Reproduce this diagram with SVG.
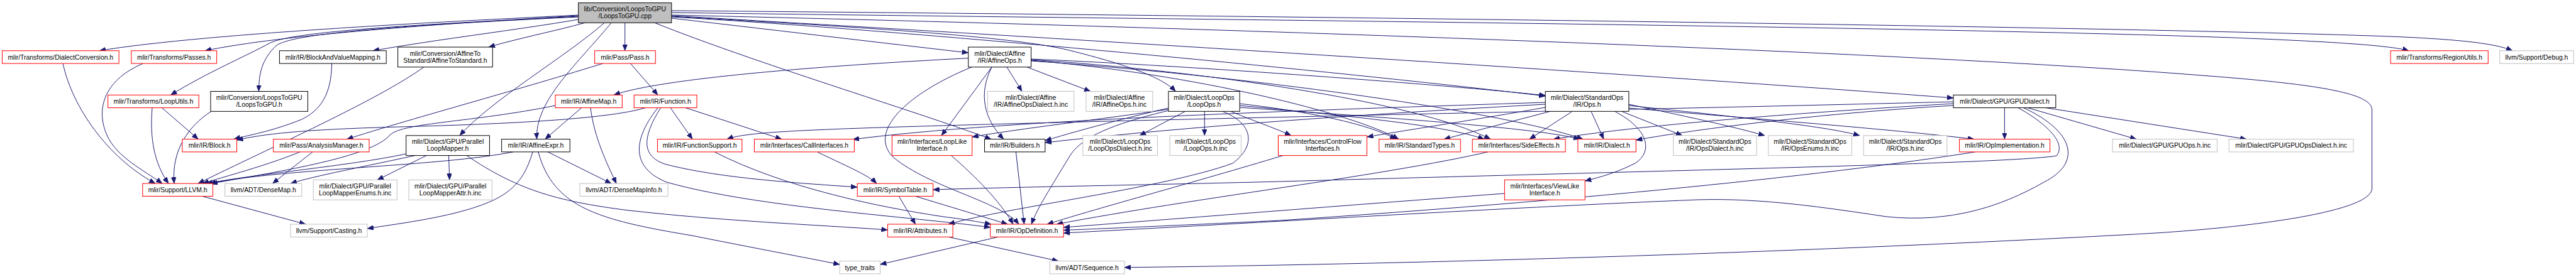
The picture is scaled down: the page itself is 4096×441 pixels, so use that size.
<svg xmlns="http://www.w3.org/2000/svg" width="4096" height="441" viewBox="0 0 4096 441">
<style>
.e path{fill:none;stroke:#191970;stroke-width:1;marker-end:url(#arr)}
.n rect{fill:#fff;stroke-width:1}
.red rect{stroke:#ff0000}
.blk rect{stroke:#000}
.gry rect{stroke:#bfbfbf}
#n_top rect{fill:#bfbfbf;stroke:#000}
text{font-family:"Liberation Sans",Arial,Helvetica,sans-serif;font-size:10.4px;text-anchor:middle;fill:#000}
</style>
<defs>
<marker id="arr" viewBox="0 0 10 8" refX="10" refY="4" markerWidth="10" markerHeight="8" markerUnits="userSpaceOnUse" orient="auto"><path d="M0,0 L10,4 L0,8 z" fill="#191970" stroke="#191970" stroke-width="0.5"/></marker>
</defs>
<rect width="4096" height="441" fill="#fff"/>
<g id="edges" class="e">
<path d="M919.7 24 C760 32 330 52 158 80.75"/>
<path d="M919.7 25 C700 38 450 55 326 80.75"/>
<path d="M919.7 26 C650 40 470 50 430 68 C390 90 330 115 271.4 151.25"/>
<path d="M919.7 27 C650 40 470 52 440 72 C415 95 411.5 120 411.5 145.5"/>
<path d="M919.7 31 C820 48 700 62 593 80.75"/>
<path d="M930 36.3 C880 50 820 62 777 75"/>
<path d="M993.7 36.3 L993.7 80.75"/>
<path d="M961 36.3 C900 90 780 160 731 215.8"/>
<path d="M972 36.3 C920 100 850 160 853.6 221.55"/>
<path d="M1067.8 29 C1250 50 1400 68 1539.7 84"/>
<path d="M1067.8 26 C1300 40 1600 55 1700 80 C1800 105 1850 125 1869.3 145.5"/>
<path d="M1067.8 27 C1400 45 2100 110 2457.2 153"/>
<path d="M1067.8 25 C1500 50 2500 110 3106 156"/>
<path d="M1067.8 20 C1600 28 3000 40 3550 60 C3700 66 3800 72 3830 80.75"/>
<path d="M1067.8 17 C1700 22 3300 40 3800 58 C3920 63 3970 70 3995 80.75"/>
<path d="M1067.8 24 C1800 40 3000 80 3500 120 C3700 135 3771.6 150 3771.6 175 L3771.6 300 C3771.6 340 3550 365 3392.7 373 C2900 400 2300 420 1787.9 425.8"/>
<path d="M1041 36.3 C1200 100 1450 175 1576 221.55"/>
<path d="M100 101.05 C115 170 170 250 247 292.15"/>
<path d="M227.6 101.05 C170 125 150 170 170 215 C185 250 230 272 258 292.15"/>
<path d="M242 171.55 C238 220 245 260 268 292.15"/>
<path d="M257.4 171.55 L315.2 221.55"/>
<path d="M336 177.3 C300 200 272 240 277 292.15"/>
<path d="M527.5 101.05 C527 150 510 175 480 190 C430 210 395 215 372 221.55"/>
<path d="M674 106.8 C600 160 430 235 315 292.15"/>
<path d="M958.7 101.05 C800 150 650 190 551.6 221.55"/>
<path d="M1002.5 101.05 L1046 151.25"/>
<path d="M477 241.85 C420 265 360 280 322 292.15"/>
<path d="M497 241.85 L433.4 292.15"/>
<path d="M1539.7 92.6 C1300 105 1050 125 976 151.25"/>
<path d="M883 168 C750 195 640 195 620 215 C590 250 450 272 336 292.15"/>
<path d="M1026.5 171.55 C950 195 700 200 600 203 C480 207 420 213 376.5 223"/>
<path d="M924.7 171.55 L866.7 221.55"/>
<path d="M939 171.55 C945 220 965 260 980 292.15"/>
<path d="M1066 171.55 L1101 221.55"/>
<path d="M1090 171.55 L1243 221.55"/>
<path d="M1050.6 171.55 C1020 220 1020 250 1060 262 C1150 285 1280 292 1363.2 298"/>
<path d="M1046 171.55 C1000 230 1010 270 1060 290 C1200 330 1450 345 1574.7 362"/>
<path d="M816 241.85 C700 265 450 268 333 292.15"/>
<path d="M645.7 245 C550 265 420 275 328 292.15"/>
<path d="M660 247.6 C580 265 500 280 462 292.15"/>
<path d="M678 247.6 L600 286.4"/>
<path d="M713.5 247.6 L714.8 286.4"/>
<path d="M742 247.6 C820 300 880 320 1000 335 C1150 352 1300 358 1411.4 366"/>
<path d="M847 241.85 C830 300 800 320 720 340 C670 352 620 358 584 364"/>
<path d="M855.8 241.85 C880 330 950 350 1100 375 C1200 395 1280 410 1335.2 421"/>
<path d="M871 241.85 L972 292.15"/>
<path d="M1136 241.85 C1250 300 1400 330 1500 345 C1540 350 1560 354 1576 357"/>
<path d="M1299.7 241.85 C1340 262 1380 278 1394 292.15"/>
<path d="M1429.3 312.45 L1455.6 356.95"/>
<path d="M1455.6 312.45 L1602.3 356.95"/>
<path d="M1512.5 247.6 C1550 280 1590 320 1611 356.95"/>
<path d="M1615.4 241.85 L1628.5 356.95"/>
<path d="M1545 106.8 C1440 150 1380 210 1420 250 C1480 300 1590 320 1620 356.95"/>
<path d="M1577 106.8 L1497 215.8"/>
<path d="M1577 106.8 C1555 150 1565 190 1596 221.55"/>
<path d="M1601 106.8 L1625 145.5"/>
<path d="M1633 106.8 L1734 145.5"/>
<path d="M1639.5 94 C1900 105 2300 135 2457.2 152"/>
<path d="M1639.5 95 C1900 112 2250 160 2370 221.55"/>
<path d="M1639.5 96 C1900 118 2150 180 2224 221.55"/>
<path d="M1639.5 97 C2000 122 2400 180 2517 221.55"/>
<path d="M1884.6 177.3 L1812 215.8"/>
<path d="M1915.3 177.3 L1915.3 215.8"/>
<path d="M1957 177.3 C2000 195 2030 205 2053 215.8"/>
<path d="M1943.7 177.3 C1990 195 2000 230 1960 260 C1850 300 1600 330 1508 356.95"/>
<path d="M1858 176 C1780 195 1720 215 1700 250 C1670 300 1650 330 1640 356.95"/>
<path d="M1857.9 172 C1780 190 1700 212 1661.8 224"/>
<path d="M1857.9 174 C1750 190 1620 205 1545.7 218"/>
<path d="M1971.2 165 C2100 180 2180 200 2220 221.55"/>
<path d="M1971.2 168 C2150 185 2300 200 2360 221.55"/>
<path d="M1971.2 171 C2250 190 2450 205 2512 221.55"/>
<path d="M3208.9 171.55 C3260 200 3285 230 3270 248 C3200 260 2700 270 2035.6 289 C1800 295 1600 298 1483.6 302"/>
<path d="M3217.6 171.55 C3300 210 3310 260 3250 290 C3180 330 3100 355 3000 345 C2900 330 2800 315 2700 318 C2400 330 2000 355 1691.1 371"/>
<path d="M3187.4 171.55 L3187.4 221.55"/>
<path d="M3224 171.55 L3397 221.55"/>
<path d="M3252.7 171.55 L3572 221.55"/>
<path d="M3106 168 C2900 180 2700 205 2601.3 223"/>
<path d="M3106 165 C2850 180 2600 200 2470 221.55"/>
<path d="M3106 162 C2600 175 1800 190 1400 203 C1250 208 1180 212 1156 221.55"/>
<path d="M2457.2 163 C2100 175 1600 190 1356 222"/>
<path d="M2457.2 171 C2350 190 2250 205 2173.5 218"/>
<path d="M2465 177.3 L2296 221.55"/>
<path d="M2500 177.3 L2432 221.55"/>
<path d="M2530 177.3 L2550 221.55"/>
<path d="M2567.5 177.3 C2620 205 2630 240 2600 260 C2570 275 2545 282 2520.2 288"/>
<path d="M2578.5 177.3 L2675 215.8"/>
<path d="M2589.9 166 C2680 185 2750 200 2806 215.8"/>
<path d="M2589.9 168 C2750 185 2900 200 2957 215.8"/>
<path d="M2589.9 172 C2800 190 3000 205 3139 221.55"/>
<path d="M2457.2 166 C2200 180 1900 200 1661.8 227"/>
<path d="M2040 247.6 C1900 290 1750 330 1665 356.95"/>
<path d="M2366 241.85 C2200 280 1900 315 1680 356.95"/>
<path d="M2392.4 308 C2100 330 1850 350 1691.1 362"/>
<path d="M3141 241.85 C2900 280 2500 320 2035 351 C1850 360 1750 364 1691.1 366.5"/>
<path d="M1508 377.25 L1683 415.65"/>
<path d="M1587 377.25 L1399.5 421"/>
<path d="M321.8 312.45 L486 356.95"/>
</g>
<g id="n_top" class="n"><rect x="919.7" y="4.5" width="148.1" height="31.8"/><text x="993.75" y="18">lib/Conversion/LoopsToGPU</text><text x="993.75" y="29">/LoopsToGPU.cpp</text></g>
<g id="n_dialectconv" class="n red"><rect x="3.5" y="80.75" width="185.6" height="20.3"/><text x="96.3" y="94.6">mlir/Transforms/DialectConversion.h</text></g>
<g id="n_passes" class="n red"><rect x="208.8" y="80.75" width="135.8" height="20.3"/><text x="276.7" y="94.6">mlir/Transforms/Passes.h</text></g>
<g id="n_bavm" class="n blk"><rect x="444.4" y="80.75" width="169.8" height="20.3"/><text x="529.3" y="94.6">mlir/IR/BlockAndValueMapping.h</text></g>
<g id="n_a2s" class="n blk"><rect x="632.6" y="75" width="150.6" height="31.8"/><text x="707.9" y="88.5">mlir/Conversion/AffineTo</text><text x="707.9" y="99.5">Standard/AffineToStandard.h</text></g>
<g id="n_pass" class="n red"><rect x="945.6" y="80.75" width="96.7" height="20.3"/><text x="993.95" y="94.6">mlir/Pass/Pass.h</text></g>
<g id="n_affineops" class="n blk"><rect x="1539.7" y="75" width="99.8" height="31.8"/><text x="1589.6" y="88.5">mlir/Dialect/Affine</text><text x="1589.6" y="99.5">/IR/AffineOps.h</text></g>
<g id="n_regionutils" class="n red"><rect x="3801.2" y="80.75" width="155.1" height="20.3"/><text x="3878.75" y="94.6">mlir/Transforms/RegionUtils.h</text></g>
<g id="n_debug" class="n gry"><rect x="3974.7" y="80.75" width="117.5" height="20.3"/><text x="4033.45" y="94.6">llvm/Support/Debug.h</text></g>
<g id="n_looputils" class="n red"><rect x="171.6" y="151.25" width="144.5" height="20.3"/><text x="243.85" y="165.1">mlir/Transforms/LoopUtils.h</text></g>
<g id="n_l2gh" class="n blk"><rect x="334.9" y="145.5" width="154.5" height="31.8"/><text x="412.15" y="159">mlir/Conversion/LoopsToGPU</text><text x="412.15" y="170">/LoopsToGPU.h</text></g>
<g id="n_affinemap" class="n red"><rect x="883" y="151.25" width="106.3" height="20.3"/><text x="936.15" y="165.1">mlir/IR/AffineMap.h</text></g>
<g id="n_function" class="n red"><rect x="1008.2" y="151.25" width="99.8" height="20.3"/><text x="1058.1" y="165.1">mlir/IR/Function.h</text></g>
<g id="n_aodinc" class="n gry"><rect x="1570.3" y="145.5" width="137.4" height="31.8"/><text x="1639" y="159">mlir/Dialect/Affine</text><text x="1639" y="170">/IR/AffineOpsDialect.h.inc</text></g>
<g id="n_aoinc" class="n gry"><rect x="1727" y="145.5" width="105.9" height="31.8"/><text x="1779.95" y="159">mlir/Dialect/Affine</text><text x="1779.95" y="170">/IR/AffineOps.h.inc</text></g>
<g id="n_loopops" class="n blk"><rect x="1857.9" y="145.5" width="113.3" height="31.8"/><text x="1914.55" y="159">mlir/Dialect/LoopOps</text><text x="1914.55" y="170">/LoopOps.h</text></g>
<g id="n_stdops" class="n blk"><rect x="2457.2" y="145.5" width="132.7" height="31.8"/><text x="2523.55" y="159">mlir/Dialect/StandardOps</text><text x="2523.55" y="170">/IR/Ops.h</text></g>
<g id="n_gpudialect" class="n blk"><rect x="3106" y="151.25" width="162.8" height="20.3"/><text x="3187.4" y="165.1">mlir/Dialect/GPU/GPUDialect.h</text></g>
<g id="n_block" class="n red"><rect x="289.8" y="221.55" width="86.7" height="20.3"/><text x="333.15" y="235.4">mlir/IR/Block.h</text></g>
<g id="n_am" class="n red"><rect x="434.7" y="221.55" width="152.3" height="20.3"/><text x="510.85" y="235.4">mlir/Pass/AnalysisManager.h</text></g>
<g id="n_plm" class="n blk"><rect x="645.7" y="215.8" width="132.7" height="31.8"/><text x="712.05" y="229.3">mlir/Dialect/GPU/Parallel</text><text x="712.05" y="240.3">LoopMapper.h</text></g>
<g id="n_affineexpr" class="n blk"><rect x="797.6" y="221.55" width="108.6" height="20.3"/><text x="851.9" y="235.4">mlir/IR/AffineExpr.h</text></g>
<g id="n_funcsupport" class="n red"><rect x="1045.4" y="221.55" width="134.4" height="20.3"/><text x="1112.6" y="235.4">mlir/IR/FunctionSupport.h</text></g>
<g id="n_callif" class="n red"><rect x="1199.5" y="221.55" width="158.9" height="20.3"/><text x="1278.95" y="235.4">mlir/Interfaces/CallInterfaces.h</text></g>
<g id="n_looplike" class="n red"><rect x="1418.4" y="215.8" width="127.3" height="31.8"/><text x="1482.05" y="229.3">mlir/Interfaces/LoopLike</text><text x="1482.05" y="240.3">Interface.h</text></g>
<g id="n_builders" class="n blk"><rect x="1565.5" y="221.55" width="96.3" height="20.3"/><text x="1613.65" y="235.4">mlir/IR/Builders.h</text></g>
<g id="n_lodinc" class="n gry"><rect x="1721.8" y="215.8" width="118.6" height="31.8"/><text x="1781.1" y="229.3">mlir/Dialect/LoopOps</text><text x="1781.1" y="240.3">/LoopOpsDialect.h.inc</text></g>
<g id="n_loinc" class="n gry"><rect x="1860.1" y="215.8" width="113.3" height="31.8"/><text x="1916.75" y="229.3">mlir/Dialect/LoopOps</text><text x="1916.75" y="240.3">/LoopOps.h.inc</text></g>
<g id="n_cfif" class="n red"><rect x="2032.5" y="215.8" width="141" height="31.8"/><text x="2103" y="229.3">mlir/Interfaces/ControlFlow</text><text x="2103" y="240.3">Interfaces.h</text></g>
<g id="n_stdtypes" class="n red"><rect x="2192.8" y="221.55" width="129.5" height="20.3"/><text x="2257.55" y="235.4">mlir/IR/StandardTypes.h</text></g>
<g id="n_sideeffects" class="n red"><rect x="2341.2" y="221.55" width="147.9" height="20.3"/><text x="2415.15" y="235.4">mlir/Interfaces/SideEffects.h</text></g>
<g id="n_dialect" class="n red"><rect x="2508.9" y="221.55" width="92.4" height="20.3"/><text x="2555.1" y="235.4">mlir/IR/Dialect.h</text></g>
<g id="n_odinc" class="n gry"><rect x="2660.7" y="215.8" width="132.3" height="31.8"/><text x="2726.85" y="229.3">mlir/Dialect/StandardOps</text><text x="2726.85" y="240.3">/IR/OpsDialect.h.inc</text></g>
<g id="n_oeinc" class="n gry"><rect x="2811.8" y="215.8" width="132.6" height="31.8"/><text x="2878.1" y="229.3">mlir/Dialect/StandardOps</text><text x="2878.1" y="240.3">/IR/OpsEnums.h.inc</text></g>
<g id="n_oinc" class="n gry"><rect x="2963.3" y="215.8" width="132.6" height="31.8"/><text x="3029.6" y="229.3">mlir/Dialect/StandardOps</text><text x="3029.6" y="240.3">/IR/Ops.h.inc</text></g>
<g id="n_opimpl" class="n red"><rect x="3115.6" y="221.55" width="144" height="20.3"/><text x="3187.6" y="235.4">mlir/IR/OpImplementation.h</text></g>
<g id="n_gpuopsinc" class="n gry"><rect x="3359" y="221.55" width="166.4" height="20.3"/><text x="3442.2" y="235.4">mlir/Dialect/GPU/GPUOps.h.inc</text></g>
<g id="n_gpuodinc" class="n gry"><rect x="3544.2" y="221.55" width="197.8" height="20.3"/><text x="3643.1" y="235.4">mlir/Dialect/GPU/GPUOpsDialect.h.inc</text></g>
<g id="n_llvm" class="n red"><rect x="226.8" y="292.15" width="111.6" height="20.3"/><text x="282.6" y="306">mlir/Support/LLVM.h</text></g>
<g id="n_densemap" class="n gry"><rect x="357.7" y="292.15" width="122.1" height="20.3"/><text x="418.75" y="306">llvm/ADT/DenseMap.h</text></g>
<g id="n_plmenums" class="n gry"><rect x="498.2" y="286.4" width="133.1" height="31.8"/><text x="564.75" y="299.9">mlir/Dialect/GPU/Parallel</text><text x="564.75" y="310.9">LoopMapperEnums.h.inc</text></g>
<g id="n_plmattr" class="n gry"><rect x="650.1" y="286.4" width="132.2" height="31.8"/><text x="716.2" y="299.9">mlir/Dialect/GPU/Parallel</text><text x="716.2" y="310.9">LoopMapperAttr.h.inc</text></g>
<g id="n_densemapinfo" class="n gry"><rect x="922" y="292.15" width="140" height="20.3"/><text x="992" y="306">llvm/ADT/DenseMapInfo.h</text></g>
<g id="n_symtab" class="n red"><rect x="1363.2" y="292.15" width="120.4" height="20.3"/><text x="1423.4" y="306">mlir/IR/SymbolTable.h</text></g>
<g id="n_viewlike" class="n red"><rect x="2392.4" y="286.4" width="127.8" height="31.8"/><text x="2456.3" y="299.9">mlir/Interfaces/ViewLike</text><text x="2456.3" y="310.9">Interface.h</text></g>
<g id="n_casting" class="n gry"><rect x="461.9" y="356.95" width="122.1" height="20.3"/><text x="522.95" y="370.8">llvm/Support/Casting.h</text></g>
<g id="n_attributes" class="n red"><rect x="1411.4" y="356.95" width="103.7" height="20.3"/><text x="1463.25" y="370.8">mlir/IR/Attributes.h</text></g>
<g id="n_opdef" class="n red"><rect x="1574.7" y="356.95" width="116.4" height="20.3"/><text x="1632.9" y="370.8">mlir/IR/OpDefinition.h</text></g>
<g id="n_typetraits" class="n gry"><rect x="1335.2" y="415.65" width="64.3" height="20.3"/><text x="1367.35" y="429.5">type_traits</text></g>
<g id="n_sequence" class="n gry"><rect x="1669.2" y="415.65" width="118.7" height="20.3"/><text x="1728.55" y="429.5">llvm/ADT/Sequence.h</text></g>
</svg>
